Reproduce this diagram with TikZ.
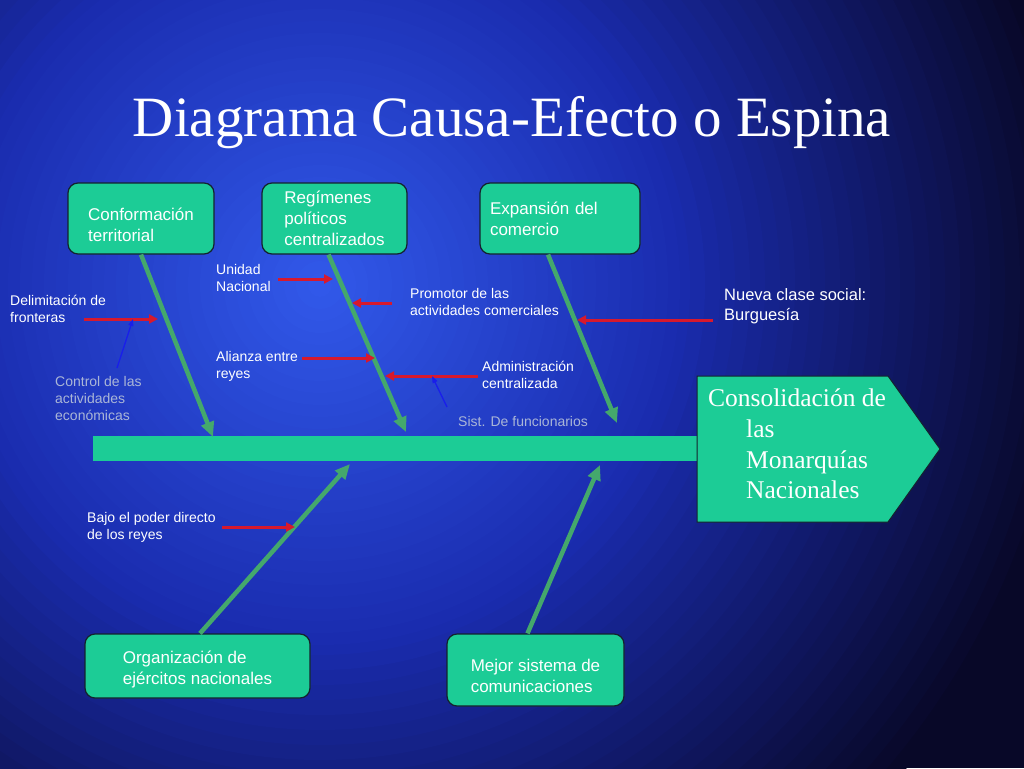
\documentclass[tikz,border=0pt]{standalone}
\usepackage{fontspec}
\setmainfont{Liberation Serif}
\newfontfamily\arialf{Liberation Sans}
\usetikzlibrary{arrows.meta}
\definecolor{mint}{RGB}{28,204,150}
\definecolor{bonegreen}{RGB}{68,168,108}
\definecolor{redarr}{RGB}{215,25,45}
\definecolor{bluearr}{RGB}{25,30,235}
\definecolor{greytext}{RGB}{170,182,215}
\definecolor{boxborder}{RGB}{20,35,45}
\definecolor{bgouter}{RGB}{8,8,40}
\definecolor{bgmid}{RGB}{26,44,175}
\definecolor{bginner}{RGB}{50,90,235}
\tikzset{
  cause/.style={draw=boxborder, line width=1.2pt, fill=mint, rounded corners=10pt, align=left, text=white, font=\arialf\fontsize{17}{21}\selectfont, inner sep=0pt},
  bone/.style={draw=bonegreen, line width=4.5pt, -{Triangle[length=15pt,width=13pt]}},
  rib/.style={draw=redarr, line width=3pt, -{Triangle[length=9pt,width=9pt]}},
  ptr/.style={draw=bluearr, line width=1.3pt, -{Triangle[length=7pt,width=5pt]}},
  lbl/.style={text=white, font=\arialf\fontsize{14}{17}\selectfont, align=left, inner sep=0pt, anchor=west},
  note/.style={lbl, text=greytext}
}
\begin{document}
\begin{tikzpicture}[x=1pt,y=-1pt]
\useasboundingbox (0,0) rectangle (1024,768);
\begin{scope}
  \clip (0,0) rectangle (1024,768);
  \fill[bgouter] (0,0) rectangle (1024,768);
  \foreach \r in {760,745,...,370} {
    \pgfmathsetmacro\pp{(760-\r)/4}
    \fill[bgmid!\pp!bgouter] (320,285) circle (\r pt);
  }
  \foreach \r in {360,348,...,10} {
    \pgfmathsetmacro\pp{(360-\r)/3.6}
    \fill[bginner!\pp!bgmid] (320,285) circle (\r pt);
  }
\end{scope}

% title
\node[text=white, font=\fontsize{57}{60}\selectfont, inner sep=0pt] (title) at (512,123) {Diagrama Causa-Efecto o Espina};

% spine
\node[fill=mint, minimum width=612pt, minimum height=25pt, inner sep=0pt, anchor=west] (spine) at (93,448.5) {};

% arrow targets
\coordinate (t1) at (213,437);
\coordinate (t2) at (406,432);
\coordinate (t3) at (617,423);
\coordinate (t4) at (350,464);
\coordinate (t5) at (600,465);

% cause boxes
\node[cause, minimum width=146pt, minimum height=71pt] (b1) at (141,218.5) {\rule{0pt}{24.5pt}Conformación\\territorial};
\node[cause, minimum width=145pt, minimum height=71pt] (b2) at (334.5,218.5) {Regímenes\\políticos\\centralizados};
\node[cause, minimum width=160pt, minimum height=71pt, text width=140pt] (b3) at (560,218.5) {Expansión del\\comercio};
\node[cause, minimum width=225pt, minimum height=64pt] (b4) at (197.5,666) {\rule{0pt}{20.5pt}Organización de\\ejércitos nacionales};
\node[cause, minimum width=177pt, minimum height=72pt] (b5) at (535.5,670) {\rule{0pt}{24.5pt}Mejor sistema de\\comunicaciones};

% bones
\draw[bone] (b1.south) -- (t1);
\draw[bone] ([xshift=-6pt]b2.south) -- (t2);
\draw[bone] ([xshift=-12pt]b3.south) -- (t3);
\draw[bone] ([xshift=2.5pt]b4.north) -- (t4);
\draw[bone] ([xshift=-8pt]b5.north) -- (t5);

% head
\draw[draw=boxborder, fill=mint, line width=1pt] (697,376) -- (888,376) -- (940,449) -- (888,522) -- (697,522) -- cycle;
\node[anchor=north west, align=left, font=\fontsize{25.5}{30.6}\selectfont, text=white, inner sep=0pt] (head) at (708,389) {Consolidación de\\\hspace*{38pt}las\\\hspace*{38pt}Monarquías\\\hspace*{38pt}Nacionales};

% labels
\node[lbl] (l1) at (10,309) {Delimitación de\\fronteras};
\node[lbl] (l2) at (216,277.5) {Unidad\\Nacional};
\node[lbl] (l3) at (410,301.5) {Promotor de las\\actividades comerciales};
\node[lbl] (l4) at (216,366.5) {Alianza entre\\reyes};
\node[lbl] (l5) at (482,374.5) {Administración\\centralizada};
\node[lbl, font=\arialf\fontsize{16.5}{20}\selectfont] (l6) at (724,306) {Nueva clase social:\\Burguesía};
\node[note] (l7) at (55,398) {Control de las\\actividades\\económicas};
\node[note] (l8) at (458,421) {Sist. De funcionarios};
\node[lbl] (l9) at (87,527.5) {Bajo el poder directo\\de los reyes};

% red arrows
\coordinate (r1s) at (84,319);  \coordinate (r1e) at (158,319);
\coordinate (r2s) at (278,279); \coordinate (r2e) at (333,279);
\coordinate (r3s) at (392,303); \coordinate (r3e) at (352,303);
\coordinate (r4s) at (302,358); \coordinate (r4e) at (375,358);
\coordinate (r5s) at (478,376); \coordinate (r5e) at (385,376);
\coordinate (r6s) at (713,320); \coordinate (r6e) at (577,320);
\coordinate (r7s) at (222,527); \coordinate (r7e) at (295,527);
\draw[rib] (r1s) -- (r1e);
\draw[rib] (r2s) -- (r2e);
\draw[rib] (r3s) -- (r3e);
\draw[rib] (r4s) -- (r4e);
\draw[rib] (r5s) -- (r5e);
\draw[rib] (r6s) -- (r6e);
\draw[rib] (r7s) -- (r7e);

% blue arrows
\coordinate (p1s) at (117,368); \coordinate (p1e) at (133,319);
\coordinate (p2s) at (447,407); \coordinate (p2e) at (432,376);
\draw[ptr] (p1s) -- (p1e);
\draw[ptr] (p2s) -- (p2e);
\end{tikzpicture}
\end{document}
